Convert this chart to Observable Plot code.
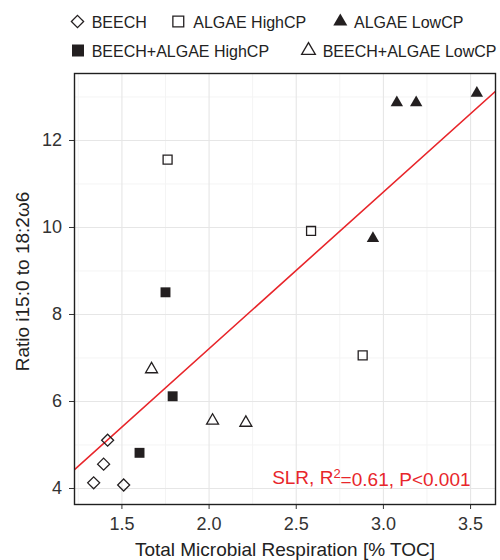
<!DOCTYPE html>
<html><head><meta charset="utf-8">
<script src="https://cdn.jsdelivr.net/npm/d3@7"></script>
<script src="https://cdn.jsdelivr.net/npm/@observablehq/plot@0.6"></script>
<style>
body{margin:0;background:#fff;font-family:"Liberation Sans",Arial,sans-serif;}
#wrap{width:500px;height:560px;position:relative;background:#fff;}
#legend{display:block;}
#chart svg{display:block;}
</style></head>
<body><div id="wrap"><svg id="legend" width="500" height="66"></svg><div id="chart"></div></div>
<script>
// ---- data ----
const groups = ["BEECH", "ALGAE HighCP", "ALGAE LowCP", "BEECH+ALGAE HighCP", "BEECH+ALGAE LowCP"];
const beechX = [1.338, 1.395, 1.418, 1.51];
const beechY = [4.13, 4.56, 5.11, 4.08];
const algaeHighX = [1.762, 2.585, 2.881];
const algaeHighY = [11.56, 9.92, 7.06];
const algaeLowX = [2.940, 3.077, 3.188, 3.536];
const algaeLowY = [9.75, 12.87, 12.87, 13.09];
const mixHighX = [1.601, 1.750, 1.791];
const mixHighY = [4.82, 8.51, 6.12];
const mixLowX = [1.670, 2.020, 2.211];
const mixLowY = [6.74, 5.56, 5.51];
const xTicks = [1.5, 2.0, 2.5, 3.0, 3.5];
const xMinor = [1.25, 1.75, 2.25, 2.75, 3.25];
const yTicks = [4, 6, 8, 10, 12];
const yMinor = [5, 7, 9, 11, 13];
const xDomain = [1.228, 3.643];
const yDomain = [3.632, 13.54];
const xLabel = "Total Microbial Respiration [% TOC]";
const yLabel = "Ratio i15:0 to 18:2\u03C96";
const annotationParts = ["SLR, R", "2", "=0.61, P<0.001"];
const annotation = annotationParts.join("");

const series = [
  {g: groups[0], xs: beechX, ys: beechY, symbol: "diamond2", fill: "none", r: 5.4},
  {g: groups[1], xs: algaeHighX, ys: algaeHighY, symbol: "square2", fill: "none", r: 5.7},
  {g: groups[2], xs: algaeLowX, ys: algaeLowY, symbol: "triangle", fill: "#231f20", r: 4.6},
  {g: groups[3], xs: mixHighX, ys: mixHighY, symbol: "square", fill: "#231f20", r: 5.6},
  {g: groups[4], xs: mixLowX, ys: mixLowY, symbol: "triangle2", fill: "none", r: 5.7}
];
const table = series.flatMap(s => s.xs.map((x, i) => ({group: s.g, x, y: s.ys[i]})));

// simple linear regression over all points
const mx = d3.mean(table, d => d.x), my = d3.mean(table, d => d.y);
const slope = d3.sum(table, d => (d.x - mx) * (d.y - my)) / d3.sum(table, d => (d.x - mx) ** 2);
const intercept = my - slope * mx;
const regLine = xDomain.map(x => ({x, y: intercept + slope * x}));

const red = "#e8262b";
const ink = "#231f20";

const dotMarks = series.map(s => Plot.dot(table.filter(d => d.group === s.g), {
  x: "x", y: "y", symbol: () => s.symbol, r: s.r,
  fill: s.fill, stroke: s.fill === "none" ? ink : "none", strokeWidth: 1.3
}));

const plot = Plot.plot({
  width: 500, height: 494,
  marginTop: 7, marginBottom: 56, marginLeft: 74, marginRight: 5,
  x: {domain: xDomain, label: null},
  y: {domain: yDomain, label: null},
  symbol: {type: "identity"},
  style: {fontFamily: "'Liberation Sans', Arial, sans-serif", fontSize: "18px", color: "#333", background: "#fff"},
  marks: [
    Plot.ruleX(xMinor, {stroke: "#f4f4f4", strokeWidth: 1}),
    Plot.ruleY(yMinor, {stroke: "#f4f4f4", strokeWidth: 1}),
    Plot.ruleX(xTicks, {stroke: "#e6e6e6", strokeWidth: 1.1}),
    Plot.ruleY(yTicks, {stroke: "#e6e6e6", strokeWidth: 1.1}),
    Plot.line(regLine, {x: "x", y: "y", stroke: red, strokeWidth: 1.6, clip: true}),
    ...dotMarks,
    Plot.text([annotation], {x: 3.5, y: 4.25, text: d => d, textAnchor: "end", lineAnchor: "middle", fill: red, fontSize: 19, className: "slr-note"}),
    Plot.axisX({ticks: xTicks, tickFormat: d3.format(".1f"), tickSize: 5, tickPadding: 7.5, fontSize: 18, label: null}),
    Plot.axisY({ticks: yTicks, tickSize: 5, tickPadding: 7.5, fontSize: 18, label: null}),
    Plot.frame({stroke: "#1f1f1f", strokeWidth: 1.4}),
    Plot.text([xLabel], {frameAnchor: "bottom", text: d => d, dy: 45.5, textAnchor: "middle", lineAnchor: "middle", fontSize: 19, fill: "#222"}),
    Plot.text([yLabel], {frameAnchor: "left", text: d => d, dx: -51.5, dy: -7.5, rotate: -90, textAnchor: "middle", lineAnchor: "middle", fontSize: 19, fill: "#222"})
  ]
});
document.getElementById("chart").appendChild(plot);

// superscript the "2" of R²
d3.select(plot).selectAll(".slr-note text").each(function() {
  const t = d3.select(this);
  t.text(null);
  t.append("tspan").text(annotationParts[0]);
  t.append("tspan").attr("dy", "-0.45em").attr("font-size", 13).text(annotationParts[1]);
  t.append("tspan").attr("dy", "0.45em").text(annotationParts[2]);
});

// ---- legend ----
const legendItems = [
  {g: groups[0], sym: d3.symbolDiamond2, size: 95, fill: "none", cx: 77.5, tx: 91.7, row: 0},
  {g: groups[1], sym: d3.symbolSquare2, size: 150, fill: "none", cx: 178.3, tx: 193.3, row: 0},
  {g: groups[2], sym: d3.symbolTriangle, size: 85, fill: ink, cx: 340.3, tx: 354, row: 0},
  {g: groups[3], sym: d3.symbolSquare, size: 144, fill: ink, cx: 78, tx: 91.7, row: 1},
  {g: groups[4], sym: d3.symbolTriangle2, size: 135, fill: "none", cx: 308.5, tx: 322.7, row: 1}
];
const rowCenter = [21.5, 50.5], rowBase = [27.5, 56.5];
const lg = d3.select("#legend");
legendItems.forEach(it => {
  lg.append("path")
    .attr("d", d3.symbol(it.sym, it.size)())
    .attr("transform", `translate(${it.cx},${rowCenter[it.row]})`)
    .attr("fill", it.fill)
    .attr("stroke", it.fill === "none" ? ink : "none")
    .attr("stroke-width", 1.3);
  lg.append("text")
    .attr("x", it.tx).attr("y", rowBase[it.row])
    .attr("font-family", "'Liberation Sans', Arial, sans-serif")
    .attr("font-size", 16).attr("fill", "#222")
    .text(it.g);
});
</script>
</body></html>
